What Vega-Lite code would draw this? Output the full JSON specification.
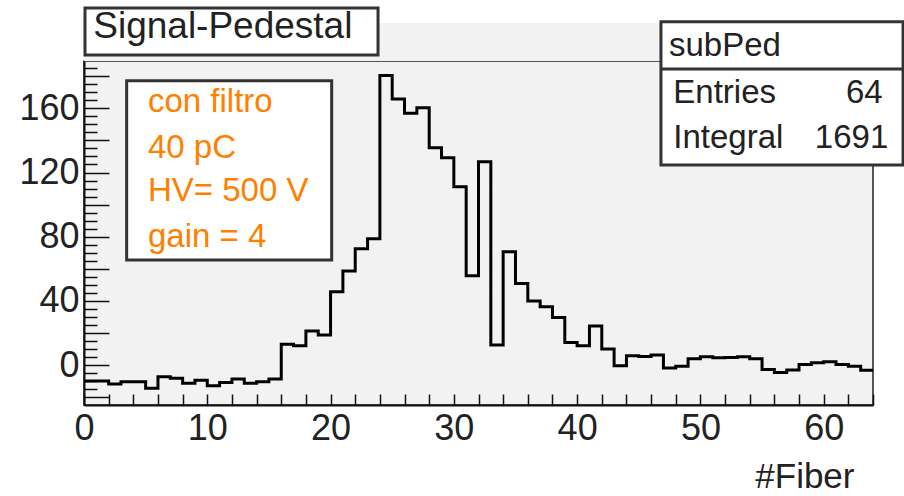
{
  "$schema": "https://vega.github.io/schema/vega-lite/v6.json",
  "autosize": "none",
  "width": 789,
  "height": 344,
  "padding": {"left": 84, "top": 61, "right": 31, "bottom": 91},
  "background": "white",
  "config": {
    "view": {"fill": "#f2f2f2", "stroke": "#222", "strokeWidth": 1.5},
    "font": "Liberation Sans"
  },
  "data": {"values": [
    {"lo":0,"hi":1,"v":-10.0},{"lo":1,"hi":2,"v":-10.0},{"lo":2,"hi":3,"v":-11.8},{"lo":3,"hi":4,"v":-10.4},
    {"lo":4,"hi":5,"v":-10.4},{"lo":5,"hi":6,"v":-14.5},{"lo":6,"hi":7,"v":-7.3},{"lo":7,"hi":8,"v":-8.3},
    {"lo":8,"hi":9,"v":-11.4},{"lo":9,"hi":10,"v":-9.4},{"lo":10,"hi":11,"v":-12.9},{"lo":11,"hi":12,"v":-10.8},
    {"lo":12,"hi":13,"v":-8.7},{"lo":13,"hi":14,"v":-11.4},{"lo":14,"hi":15,"v":-10.4},{"lo":15,"hi":16,"v":-8.7},
    {"lo":16,"hi":17,"v":12.9},{"lo":17,"hi":18,"v":12.0},{"lo":18,"hi":19,"v":21.2},{"lo":19,"hi":20,"v":18.7},
    {"lo":20,"hi":21,"v":45.7},{"lo":21,"hi":22,"v":58.6},{"lo":22,"hi":23,"v":72.5},{"lo":23,"hi":24,"v":78.7},
    {"lo":24,"hi":25,"v":180.4},{"lo":25,"hi":26,"v":165.8},{"lo":26,"hi":27,"v":156.9},{"lo":27,"hi":28,"v":160.4},
    {"lo":28,"hi":29,"v":135.5},{"lo":29,"hi":30,"v":129.2},{"lo":30,"hi":31,"v":111.2},{"lo":31,"hi":32,"v":55.7},
    {"lo":32,"hi":33,"v":126.7},{"lo":33,"hi":34,"v":12.5},{"lo":34,"hi":35,"v":70.6},{"lo":35,"hi":36,"v":50.9},
    {"lo":36,"hi":37,"v":39.9},{"lo":37,"hi":38,"v":36.4},{"lo":38,"hi":39,"v":29.7},{"lo":39,"hi":40,"v":14.1},
    {"lo":40,"hi":41,"v":12.0},{"lo":41,"hi":42,"v":24.3},{"lo":42,"hi":43,"v":10.0},{"lo":43,"hi":44,"v":-0.5},
    {"lo":44,"hi":45,"v":5.8},{"lo":45,"hi":46,"v":5.4},{"lo":46,"hi":47,"v":6.2},{"lo":47,"hi":48,"v":-1.9},
    {"lo":48,"hi":49,"v":-0.7},{"lo":49,"hi":50,"v":4.0},{"lo":50,"hi":51,"v":5.2},{"lo":51,"hi":52,"v":4.6},
    {"lo":52,"hi":53,"v":4.7},{"lo":53,"hi":54,"v":5.2},{"lo":54,"hi":55,"v":3.9},{"lo":55,"hi":56,"v":-2.7},
    {"lo":56,"hi":57,"v":-4.6},{"lo":57,"hi":58,"v":-3.1},{"lo":58,"hi":59,"v":0.4},{"lo":59,"hi":60,"v":1.5},
    {"lo":60,"hi":61,"v":2.1},{"lo":61,"hi":62,"v":0.4},{"lo":62,"hi":63,"v":-0.8},{"lo":63,"hi":64,"v":-3.3}
  ]},
  "layer": [
    {
      "data": {"values": [{}]},
      "mark": {"type": "rect", "fill": "#f2f2f2", "stroke": null},
      "encoding": {
        "x": {"datum": 0, "type": "quantitative", "scale": {"domain": [0, 64], "nice": false, "zero": false}},
        "x2": {"datum": 64},
        "y": {"datum": 189.5, "type": "quantitative", "scale": {"domain": [-24.9, 189.5], "nice": false, "zero": false}},
        "y2": {"datum": 213.2}
      }
    },
    {
      "transform": [{"fold": ["lo", "hi"], "as": ["edge", "xpos"]}],
      "mark": {"type": "line", "color": "black", "strokeWidth": 3, "strokeJoin": "miter", "interpolate": "linear"},
      "encoding": {
        "x": {
          "field": "xpos", "type": "quantitative",
          "scale": {"domain": [0, 64], "nice": false, "zero": false},
          "axis": {
            "values": [0,2,4,6,8,10,12,14,16,18,20,22,24,26,28,30,32,34,36,38,40,42,44,46,48,50,52,54,56,58,60,62,64],
            "tickCount": 200,
            "format": "d",
            "labelExpr": "datum.value % 10 == 0 ? datum.label : ''",
            "tickSize": -11, "tickColor": "#111", "tickWidth": 1.5,
            "domainColor": "#111", "domainWidth": 2,
            "grid": false,
            "labelFont": "Liberation Sans", "labelFontSize": 36, "labelColor": "#222",
            "labelPadding": 17, "labelFlush": false, "labelOverlap": false,
            "title": "#Fiber", "titleFont": "Liberation Sans", "titleFontSize": 35, "titleFontWeight": "normal",
            "titleColor": "#222", "titleAnchor": "end", "titleAlign": "right", "titleBaseline": "alphabetic",
            "titleX": 770, "titleY": 82
          }
        },
        "y": {
          "field": "v", "type": "quantitative",
          "scale": {"domain": [-24.9, 189.5], "nice": false, "zero": false},
          "axis": {
            "values": [-20,-15,-10,-5,0,5,10,15,20,25,30,35,40,45,50,55,60,65,70,75,80,85,90,95,100,105,110,115,120,125,130,135,140,145,150,155,160,165,170,175,180,185],
            "tickCount": 200,
            "format": "d",
            "labelExpr": "datum.value % 40 == 0 ? datum.label : ''",
            "tickSize": {"condition": {"test": "datum.value % 20 == 0", "value": -25}, "value": -13},
            "tickColor": "#111", "tickWidth": 1.5,
            "domainColor": "#111", "domainWidth": 2,
            "grid": false,
            "labelFont": "Liberation Sans", "labelFontSize": 36, "labelColor": "#222",
            "labelPadding": 30, "labelFlush": false, "labelOverlap": false,
            "title": null
          }
        },
        "order": [{"field": "xpos", "type": "quantitative"}, {"field": "edge", "type": "nominal"}]
      }
    },
    {
      "data": {"values": [{}]},
      "mark": {"type": "rect", "fill": "white", "stroke": "#333", "strokeWidth": 3},
      "encoding": {
        "x": {"datum": 3.46, "type": "quantitative"}, "x2": {"datum": 20.09},
        "y": {"datum": 177.2, "type": "quantitative"}, "y2": {"datum": 65.4}
      }
    },
    {
      "data": {"values": [
        {"t": "con filtro", "yy": 157.9},
        {"t": "40 pC", "yy": 128.8},
        {"t": "HV= 500 V", "yy": 102.2},
        {"t": "gain = 4", "yy": 73.4}
      ]},
      "mark": {"type": "text", "align": "left", "baseline": "alphabetic", "font": "Liberation Sans", "fontSize": 33, "color": "#ff8000"},
      "encoding": {
        "x": {"datum": 5.19, "type": "quantitative"},
        "y": {"field": "yy", "type": "quantitative"},
        "text": {"field": "t"}
      }
    },
    {
      "data": {"values": [{}]},
      "mark": {"type": "rect", "fill": "white", "stroke": "#333", "strokeWidth": 3},
      "encoding": {
        "x": {"datum": 0.08, "type": "quantitative"}, "x2": {"datum": 23.85},
        "y": {"datum": 222.5, "type": "quantitative"}, "y2": {"datum": 193.2}
      }
    },
    {
      "data": {"values": [{}]},
      "mark": {"type": "text", "align": "left", "baseline": "alphabetic", "font": "Liberation Sans", "fontSize": 37, "color": "#222"},
      "encoding": {
        "x": {"datum": 0.75, "type": "quantitative"},
        "y": {"datum": 203.6, "type": "quantitative"},
        "text": {"value": "Signal-Pedestal"}
      }
    },
    {
      "data": {"values": [{}]},
      "mark": {"type": "rect", "fill": "white", "stroke": "#333", "strokeWidth": 3},
      "encoding": {
        "x": {"datum": 46.8, "type": "quantitative"}, "x2": {"datum": 66.44},
        "y": {"datum": 214.0, "type": "quantitative"}, "y2": {"datum": 124.7}
      }
    },
    {
      "data": {"values": [{}]},
      "mark": {"type": "rule", "stroke": "#333", "strokeWidth": 3},
      "encoding": {
        "x": {"datum": 46.8, "type": "quantitative"}, "x2": {"datum": 66.44},
        "y": {"datum": 184.5, "type": "quantitative"}
      }
    },
    {
      "data": {"values": [
        {"t": "subPed", "xx": 47.45, "yy": 192.6},
        {"t": "Entries", "xx": 47.8, "yy": 163.1},
        {"t": "Integral", "xx": 47.8, "yy": 135.1}
      ]},
      "mark": {"type": "text", "align": "left", "baseline": "alphabetic", "font": "Liberation Sans", "fontSize": 33, "color": "#222"},
      "encoding": {
        "x": {"field": "xx", "type": "quantitative"},
        "y": {"field": "yy", "type": "quantitative"},
        "text": {"field": "t"}
      }
    },
    {
      "data": {"values": [
        {"t": "64", "xx": 64.79, "yy": 163.1},
        {"t": "1691", "xx": 65.24, "yy": 135.1}
      ]},
      "mark": {"type": "text", "align": "right", "baseline": "alphabetic", "font": "Liberation Sans", "fontSize": 33, "color": "#222"},
      "encoding": {
        "x": {"field": "xx", "type": "quantitative"},
        "y": {"field": "yy", "type": "quantitative"},
        "text": {"field": "t"}
      }
    }
  ]
}
